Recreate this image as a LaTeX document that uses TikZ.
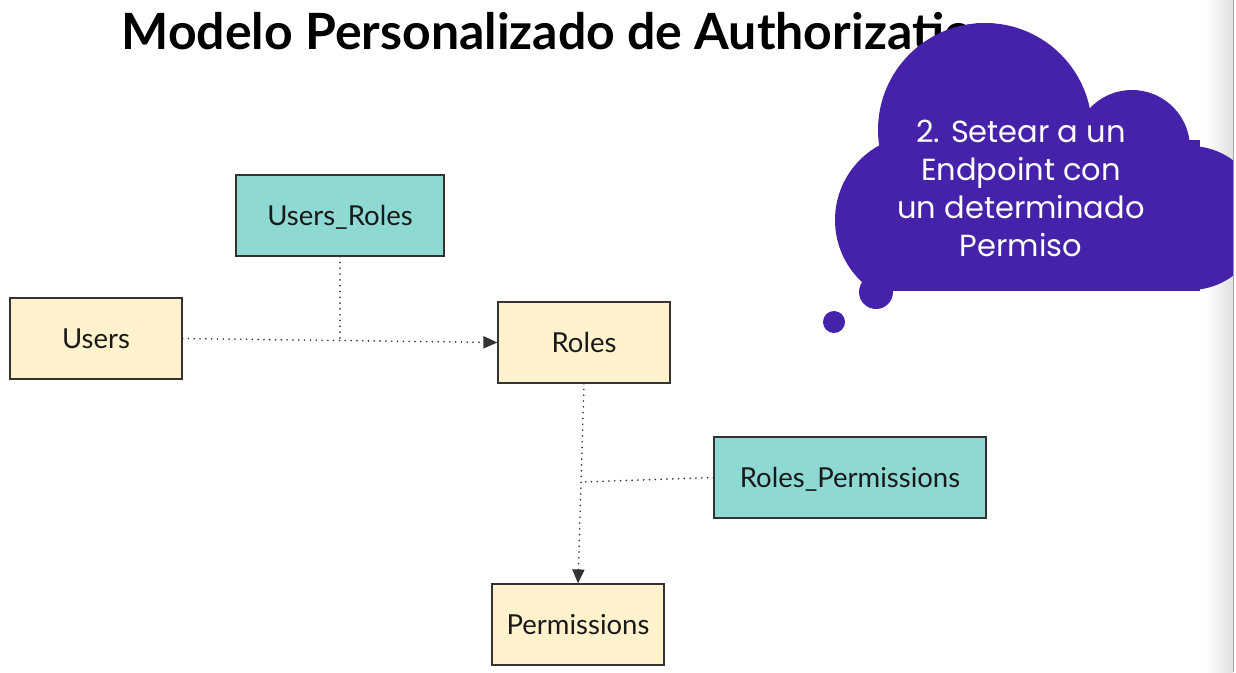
\documentclass[tikz,border=0pt]{standalone}
\usepackage{fontspec}
\setmainfont{Lato}
\newfontfamily\cloudfont{Poppins}
\usetikzlibrary{arrows.meta}
\definecolor{cream}{HTML}{FFF2CC}
\definecolor{teal2}{HTML}{8FD9D3}
\definecolor{cloudc}{HTML}{4522A9}
\definecolor{edge}{HTML}{333333}
\tikzset{
  box/.style={draw=edge, line width=1.2pt, minimum height=81pt, inner sep=0pt,
              text height=20pt, text depth=0pt,
              font=\fontsize{27.5}{32}\selectfont, text=black!90},
  yel/.style={box, fill=cream},
  tea/.style={box, fill=teal2},
  conn/.style={draw=edge, line width=1.8pt, line cap=round, dash pattern=on 0.01pt off 5.8pt},
  tip/.style={-{Triangle[length=14pt,width=12pt]}},
}
\begin{document}
\begin{tikzpicture}[x=1pt,y=-1pt]
\useasboundingbox (0,0) rectangle (1236,672);
\fill[white] (0,0) rectangle (1236,672);
% right edge shading
\shade[left color=white, right color=black!12] (1205,0) rectangle (1233,672);
\draw[black!35, line width=1pt] (1233.5,0) -- (1233.5,672);
% title
\node[anchor=west, font=\bfseries\fontsize{50}{56}\selectfont] (title) at (118,31) {Modelo Personalizado de Authorization};
% cloud
\begin{scope}
  \clip (800,0) rectangle (1233,290);
  \fill[cloudc] (985,130) circle (107);
  \fill[cloudc] (920,220) circle (85);
  \fill[cloudc] (1132,148) circle (58);
  \fill[cloudc] (1190,218) circle (72);
  \fill[cloudc] (900,140) rectangle (1200,291);
\end{scope}
\fill[cloudc] (876,292) circle (17);
\fill[cloudc] (834,322) circle (11);
\node[align=center, text=white, font=\cloudfont\fontsize{30.5}{38}\selectfont] (cloudtext) at (1021,188)
  {2. Setear a un\\Endpoint con\\un determinado\\Permiso};
% boxes
\node[tea, minimum width=208pt] (ur) at (340,215.5) {Users\_Roles};
\node[yel, minimum width=172pt] (users) at (96,338.5) {Users};
\node[yel, minimum width=172pt] (roles) at (584,342.5) {Roles};
\node[tea, minimum width=272pt] (rp) at (850,477.5) {Roles\_Permissions};
\node[yel, minimum width=172pt] (perm) at (578,624.5) {Permissions};
% connectors
\coordinate (j1) at (340,340.8);
\coordinate (j2) at (580,482);
\draw[conn, tip] (users.east) -- (roles.west);
\draw[conn] (ur.south) -- (j1);
\draw[conn, tip] (roles.south) -- (perm.north);
\draw[conn] (rp.west) -- (j2);
\end{tikzpicture}
\end{document}
